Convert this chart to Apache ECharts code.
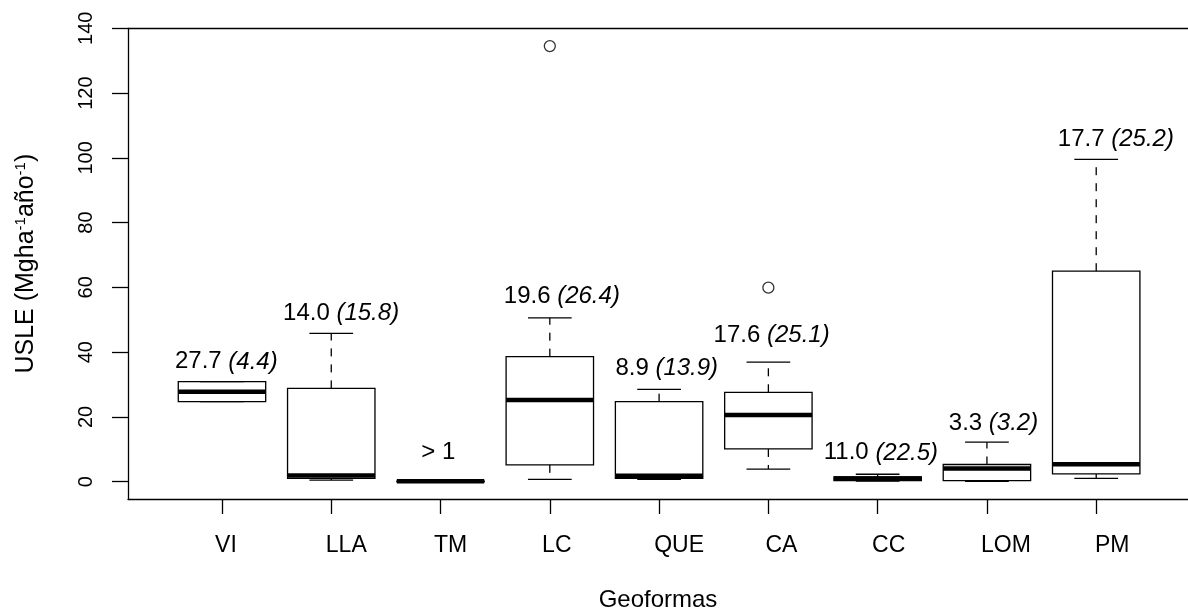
<!DOCTYPE html>
<html>
<head>
<meta charset="utf-8">
<script src="https://cdn.jsdelivr.net/npm/echarts@6/dist/echarts.min.js"></script>
<style>
  html, body { margin: 0; padding: 0; background: #fff; }
  #chart { width: 1188px; height: 613px; }
</style>
</head>
<body>
<div id="chart"></div>
<script>
// ---- data ----
var categories = ['VI', 'LLA', 'TM', 'LC', 'QUE', 'CA', 'CC', 'LOM', 'PM'];
var whiskerLow  = [24.7, 0.5, 0.0, 0.7, 0.7, 3.9, 0.2, 0.1, 1.0];
var quartile1   = [24.7, 1.0, 0.0, 5.2, 1.0, 10.1, 0.3, 0.3, 2.4];
var medians     = [27.8, 1.9, 0.1, 25.2, 1.8, 20.6, 1.0, 4.1, 5.4];
var quartile3   = [30.9, 28.8, 0.2, 38.6, 24.7, 27.6, 1.5, 5.3, 65.0];
var whiskerHigh = [30.9, 45.8, 0.3, 50.6, 28.5, 36.9, 2.3, 12.2, 99.5];
var outlierCats = ['LC', 'CA'];
var outlierVals = [134.5, 59.9];
var annotMain   = ['27.7', '14.0', '> 1', '19.6', '8.9', '17.6', '11.0', '3.3', '17.7'];
var annotParen  = ['(4.4)', '(15.8)', '', '(26.4)', '(13.9)', '(25.1)', '(22.5)', '(3.2)', '(25.2)'];
var annotY      = [37.0, 52.0, 8.9, 57.1, 35.0, 45.3, 8.9, 18.1, 105.6];
var yTicks      = [0, 20, 40, 60, 80, 100, 120, 140];

// ---- style / layout ----
var FONT = '"Liberation Sans", Arial, Helvetica, sans-serif';
var BOX_W = 0.8, CAP_W = 0.4;
var LW = 1.3;
var labelNudgePx = [4, 15, 10, 7, 20, 13, 11, 19, 16];
var annotNudgeX  = [0.04, 0.09, -0.02, 0.11, 0.07, 0.03, 0.03, 0.06, 0.18];

var boxData = categories.map(function (c, i) {
  return [i + 1, whiskerLow[i], quartile1[i], medians[i], quartile3[i], whiskerHigh[i]];
});
var outlierData = outlierCats.map(function (c, i) {
  return [categories.indexOf(c) + 1, outlierVals[i]];
});
var annotData = categories.map(function (c, i) {
  return [i + 1 + annotNudgeX[i], annotY[i], i];
});

var labelRich = {};
categories.forEach(function (c, i) {
  labelRich['l' + i] = { fontSize: 23, fontFamily: FONT, color: '#000', padding: [0, 0, 0, 2 * labelNudgePx[i]] };
});

var chart = echarts.init(document.getElementById('chart'), null, { renderer: 'canvas' });

var option = {
  backgroundColor: '#fff',
  animation: false,
  grid: { left: 128, right: 0, top: 28.3, bottom: 114, containLabel: false, outerBoundsMode: 'none' },
  xAxis: [{
    type: 'value',
    min: 0.14, max: 9.84,
    position: 'bottom',
    splitLine: { show: false },
    axisLine: { show: true, onZero: false, lineStyle: { color: '#000', width: LW } },
    axisTick: { show: true, length: 15, customValues: categories.map(function (c, i) { return i + 1; }), lineStyle: { color: '#000', width: LW } },
    axisLabel: {
      show: true, margin: 35,
      customValues: categories.map(function (c, i) { return i + 1; }),
      formatter: function (v) { var i = Math.round(v) - 1; return '{l' + i + '|' + categories[i] + '}'; },
      rich: labelRich
    },
    name: 'Geoformas', nameLocation: 'middle', nameGap: 89,
    nameTextStyle: { fontSize: 24, fontFamily: FONT, color: '#000' }
  }, {
    type: 'value',
    min: 0.14, max: 9.84,
    position: 'top',
    splitLine: { show: false },
    axisLine: { show: true, onZero: false, lineStyle: { color: '#000', width: LW } },
    axisTick: { show: false }, axisLabel: { show: false }
  }],
  yAxis: {
    type: 'value',
    min: -5.35, max: 140,
    splitLine: { show: false },
    axisLine: { show: true, onZero: false, lineStyle: { color: '#000', width: LW } },
    axisTick: { show: true, length: 16, customValues: yTicks, lineStyle: { color: '#000', width: LW } },
    axisLabel: { show: true, rotate: 90, margin: 32, customValues: yTicks, fontSize: 20, fontFamily: FONT, color: '#000' },
    name: '{n|USLE (Mgha}{s|-1}{n|año}{s|-1}{n|)}',
    nameLocation: 'middle', nameGap: 88, nameRotate: 90,
    nameTextStyle: {
      color: '#000',
      rich: {
        n: { fontSize: 25, fontFamily: FONT, color: '#000', lineHeight: 27 },
        s: { fontSize: 15, fontFamily: FONT, color: '#000', verticalAlign: 'top', lineHeight: 27 }
      }
    }
  },
  series: [{
    type: 'custom',
    name: 'boxes',
    silent: true,
    clip: false,
    data: boxData,
    renderItem: function (params, api) {
      var x = api.value(0);
      var mn = api.value(1), q1 = api.value(2), md = api.value(3), q3 = api.value(4), mx = api.value(5);
      var half = api.size([BOX_W, 0])[0] / 2;
      var capHalf = api.size([CAP_W, 0])[0] / 2;
      var pMn = api.coord([x, mn]), pQ1 = api.coord([x, q1]), pMd = api.coord([x, md]);
      var pQ3 = api.coord([x, q3]), pMx = api.coord([x, mx]);
      var cx = pMd[0];
      var stroke = { stroke: '#000', lineWidth: LW, fill: null };
      var dashed = { stroke: '#000', lineWidth: LW, lineDash: [8, 8], fill: null };
      var children = [];
      if (mx > q3) children.push({ type: 'line', shape: { x1: cx, y1: pQ3[1], x2: cx, y2: pMx[1] }, style: dashed });
      if (mn < q1) children.push({ type: 'line', shape: { x1: cx, y1: pQ1[1], x2: cx, y2: pMn[1] }, style: dashed });
      children.push({ type: 'line', shape: { x1: cx - capHalf, y1: pMx[1], x2: cx + capHalf, y2: pMx[1] }, style: stroke });
      children.push({ type: 'line', shape: { x1: cx - capHalf, y1: pMn[1], x2: cx + capHalf, y2: pMn[1] }, style: stroke });
      children.push({ type: 'rect', shape: { x: cx - half, y: pQ3[1], width: 2 * half, height: pQ1[1] - pQ3[1] }, style: { stroke: '#000', lineWidth: LW, fill: null } });
      children.push({ type: 'line', shape: { x1: cx - half, y1: pMd[1], x2: cx + half, y2: pMd[1] }, style: { stroke: '#000', lineWidth: 4.5 } });
      return { type: 'group', children: children };
    }
  }, {
    type: 'scatter',
    name: 'outliers',
    silent: true,
    data: outlierData,
    symbol: 'circle',
    symbolSize: 11,
    itemStyle: { color: '#fff', borderColor: '#000', borderWidth: LW }
  }, {
    type: 'custom',
    name: 'annotations',
    silent: true,
    clip: false,
    data: annotData,
    renderItem: function (params, api) {
      var i = api.value(2);
      var p = api.coord([api.value(0), api.value(1)]);
      var txt = '{a|' + annotMain[i] + '}' + (annotParen[i] ? '{a| }{b|' + annotParen[i] + '}' : '');
      return {
        type: 'text',
        x: p[0], y: p[1],
        style: {
          text: txt,
          align: 'center', verticalAlign: 'middle',
          textAlign: 'center', textVerticalAlign: 'middle',
          fill: '#000',
          fontSize: 24, fontFamily: FONT,
          rich: {
            a: { fontSize: 24, fontFamily: FONT, fill: '#000', color: '#000' },
            b: { fontSize: 24, fontFamily: FONT, fontStyle: 'italic', fill: '#000', color: '#000' }
          }
        }
      };
    }
  }]
};
chart.setOption(option);
</script>
</body>
</html>
